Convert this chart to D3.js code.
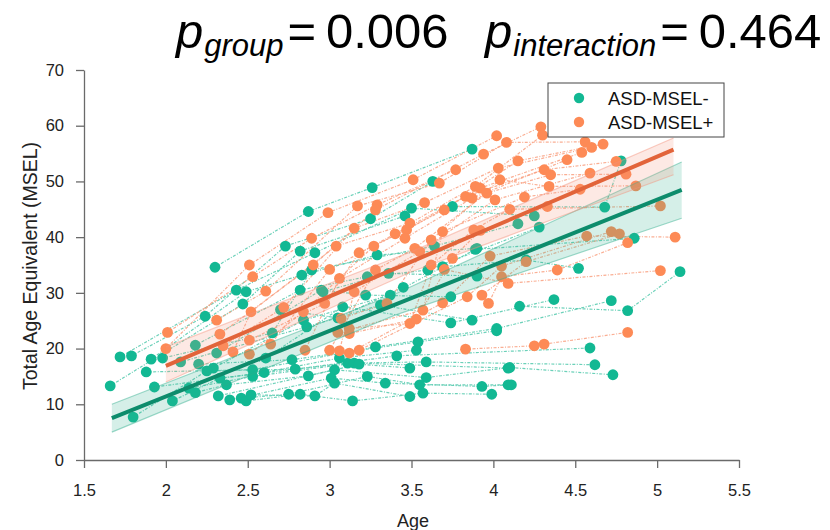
<!DOCTYPE html>
<html><head><meta charset="utf-8">
<script src="https://cdn.jsdelivr.net/npm/d3@7"></script>
<style>body{margin:0;background:#fff;} svg{display:block;font-family:"Liberation Sans",Arial,sans-serif;}</style>
</head><body>
<svg id="c" width="830" height="530"></svg>
<script>
// ---- data (age in years, MSEL total age equivalent) ----
const xTicks = [1.5, 2, 2.5, 3, 3.5, 4, 4.5, 5, 5.5];
const yTicks = [0, 10, 20, 30, 40, 50, 60, 70];
const groupNames = ["ASD-MSEL-", "ASD-MSEL+"];
const pGroup = "0.006";
const pInteraction = "0.464";

// ASD-MSEL- subjects (each: list of [age, score])
const greenSubjects = [
  [[2.30,34.6],[2.87,44.6],[3.26,48.9],[3.87,55.8]],
  [[1.79,18.7],[2.24,25.8],[2.73,38.4],[3.25,43.3],[3.63,50.0]],
  [[1.72,18.5],[2.43,30.5],[2.91,37.2],[3.50,45.2],[4.25,43.8]],
  [[1.66,13.3],[2.47,28.0],[2.82,37.5],[3.46,43.8]],
  [[3.75,45.5],[4.68,45.4],[4.78,53.7]],
  [[1.91,18.1],[2.49,30.2],[2.83,33.2],[3.29,36.8],[3.90,38.0]],
  [[1.98,18.3],[2.65,22.8],[2.89,34.1],[3.64,38.4],[4.15,42.4]],
  [[2.18,20.6],[2.82,30.5],[3.23,32.9],[3.60,34.1],[4.28,41.8]],
  [[2.29,16.5],[2.84,25.1],[3.37,29.6],[3.89,37.8],[4.86,39.8]],
  [[2.31,19.2],[2.95,30.5],[3.22,29.6],[3.74,29.3]],
  [[3.69,34.7],[4.20,35.9],[4.52,34.4]],
  [[2.09,17.6],[2.86,23.9],[3.31,27.8],[3.87,25.1]],
  [[2.61,18.3],[3.08,27.5],[3.74,24.6],[4.37,28.8]],
  [[4.16,27.6],[4.82,26.8],[5.14,33.8]],
  [[1.88,15.8],[2.53,16.2],[3.28,20.3],[4.02,23.6],[4.72,28.6]],
  [[2.20,17.2],[2.77,18.0],[3.54,21.2],[4.02,23.2]],
  [[1.93,13.1],[2.60,15.7],[3.06,18.3],[3.53,19.7]],
  [[1.80,7.7],[2.25,16.0],[2.79,16.3],[3.41,18.7],[4.59,20.1]],
  [[2.04,10.6],[2.33,14.7],[3.11,17.4],[3.59,17.6],[4.62,17.1]],
  [[2.14,12.9],[2.53,15.0],[3.15,17.4],[4.09,16.5]],
  [[2.18,12.1],[2.37,13.5],[2.87,15.1],[3.18,17.2],[3.49,16.5]],
  [[2.32,11.5],[3.03,16.2],[3.59,14.8],[4.10,16.6],[4.73,15.3]],
  [[2.39,10.8],[3.01,14.7],[3.34,13.8],[3.93,13.2],[4.09,13.5]],
  [[2.46,11.1],[2.75,11.8],[3.23,15.0],[3.55,13.5],[4.11,13.5]],
  [[2.49,10.6],[2.82,11.8],[3.14,10.6],[3.57,12.0],[3.99,11.8]],
  [[2.52,11.7],[2.91,11.5],[3.03,13.8],[3.49,11.4]],
  [[2.96,30.2],[3.36,33.5],[3.90,33.0]],
  [[2.70,27.0],[3.05,25.5],[3.45,31.0]]
];
// ASD-MSEL+ subjects
const orangeSubjects = [
  [[2.01,22.9],[2.53,32.9],[2.89,39.8],[3.29,45.8],[3.77,52.1]],
  [[2.00,20.0],[2.51,35.0],[2.99,44.4],[3.51,50.3],[4.02,58.2]],
  [[2.31,25.1],[2.61,30.3],[3.17,45.6],[3.67,49.7],[4.08,57.0],[4.56,57.1]],
  [[2.33,22.6],[2.90,35.0],[3.28,44.9],[3.94,54.9],[4.29,59.8]],
  [[2.35,20.5],[2.72,27.4],[3.15,41.6],[3.58,46.2],[4.03,52.4],[4.60,56.1]],
  [[2.41,19.4],[2.52,26.6],[3.04,38.4],[3.49,42.5],[3.89,49.1],[4.30,58.3]],
  [[2.51,21.5],[2.97,28.1],[3.18,37.2],[3.47,41.3],[3.92,48.8],[4.54,55.2]],
  [[2.51,19.0],[2.84,26.6],[3.27,38.4],[3.70,44.9],[4.15,53.7],[4.67,56.7]],
  [[2.64,20.8],[3.00,34.2],[3.40,40.6],[3.83,47.3],[4.31,52.1],[4.75,53.6]],
  [[2.85,19.7],[3.06,32.6],[3.46,39.8],[3.87,47.0],[4.45,53.9]],
  [[3.00,19.7],[3.28,34.1],[3.52,38.0],[3.96,47.9],[4.35,51.2],[4.81,51.3]],
  [[3.06,19.6],[3.15,30.2],[3.55,37.4],[4.01,46.7],[4.59,51.5]],
  [[3.07,25.4],[3.35,28.1],[3.62,39.5],[4.04,50.3],[4.34,49.1],[4.87,49.2]],
  [[3.05,22.9],[3.57,26.9],[3.69,41.0],[4.19,47.2],[4.53,48.6]],
  [[3.12,23.6],[3.49,24.5],[3.62,35.0],[3.88,41.3],[4.10,45.0],[5.02,45.6]],
  [[3.12,22.7],[3.53,25.3],[3.75,36.2],[3.92,41.2],[4.33,45.5]],
  [[3.12,19.2],[3.69,28.2],[3.98,36.6],[4.57,40.2],[5.11,40.0]],
  [[3.18,19.7],[3.84,29.3],[4.05,34.8],[4.72,41.0]],
  [[3.93,29.6],[4.20,35.6],[4.77,40.6]],
  [[3.97,28.1],[4.05,32.9],[4.39,34.1],[4.82,39.0]],
  [[3.70,34.2],[4.09,31.7],[5.02,34.0]],
  [[3.83,19.9],[4.25,20.5],[4.31,20.8],[4.82,22.9]]
];
// fitted group trajectories: age, fit, lower, upper
const greenFitAge = [1.67, 3.40, 5.15];
const greenFit    = [7.5, 27.9, 48.5];
const greenLo     = [5.0, 26.0, 43.4];
const greenHi     = [10.0, 29.8, 53.5];
const orangeFitAge = [2.00, 3.50, 5.10];
const orangeFit    = [16.9, 35.6, 55.7];
const orangeLo     = [14.0, 33.8, 51.2];
const orangeHi     = [20.3, 37.4, 57.8];

// ---- drawing ----
const svg = d3.select("#c");
const x = d3.scaleLinear().domain([1.5, 5.5]).range([84, 739]);
const y = d3.scaleLinear().domain([0, 70]).range([460, 70]);

const colPt = ["#12b893", "#fd8a56"];
const colDash = ["#52c9ad", "#f9a080"];
const colFit = ["#0d8c6c", "#e2643a"];
const colBand = ["#2fae8c", "#f5907a"];

// axes
const gx = svg.append("g").attr("transform", "translate(0,460)")
  .call(d3.axisBottom(x).tickValues(xTicks).tickFormat(d3.format("")).tickSize(8).tickSizeOuter(0).tickPadding(16));
const gy = svg.append("g").attr("transform", "translate(84,0)")
  .call(d3.axisLeft(y).tickValues(yTicks).tickSize(8).tickSizeOuter(0).tickPadding(12));
[gx, gy].forEach(g => {
  g.selectAll("path,line").attr("stroke", "#6a6a6a").attr("stroke-width", 1.3);
  g.selectAll("text").attr("fill", "#222").style("font-size", "16.5px").style("font-family", "Liberation Sans, Arial, sans-serif");
});

const line = d3.line().x(d => x(d[0])).y(d => y(d[1]));
const groups = [greenSubjects, orangeSubjects];

// spaghetti lines
groups.forEach((subs, gi) => {
  svg.append("g").selectAll("path").data(subs).join("path")
    .attr("d", line).attr("fill", "none")
    .attr("stroke", colDash[gi]).attr("stroke-width", 1.2)
    .attr("stroke-dasharray", "3,1.5,1,1.5").attr("opacity", 0.85);
});
// points
groups.forEach((subs, gi) => {
  svg.append("g").selectAll("circle").data(subs.flat()).join("circle")
    .attr("cx", d => x(d[0])).attr("cy", d => y(d[1])).attr("r", 5.4)
    .attr("fill", colPt[gi]);
});

// confidence bands + fits
const fits = [
  {age: greenFitAge, fit: greenFit, lo: greenLo, hi: greenHi},
  {age: orangeFitAge, fit: orangeFit, lo: orangeLo, hi: orangeHi}
];
fits.forEach((f, gi) => {
  const rows = f.age.map((a, i) => ({a, fit: f.fit[i], lo: f.lo[i], hi: f.hi[i]}));
  svg.append("path").datum(rows)
    .attr("d", d3.area().x(d => x(d.a)).y0(d => y(d.lo)).y1(d => y(d.hi)))
    .attr("fill", colBand[gi]).attr("fill-opacity", 0.2);
  ["lo", "hi"].forEach(k => {
    svg.append("path").datum(rows)
      .attr("d", d3.line().x(d => x(d.a)).y(d => y(d[k])))
      .attr("fill", "none").attr("stroke", colBand[gi]).attr("stroke-opacity", 0.45).attr("stroke-width", 1.2);
  });
});
fits.forEach((f, gi) => {
  const rows = f.age.map((a, i) => ({a, fit: f.fit[i]}));
  svg.append("path").datum(rows)
    .attr("d", d3.line().x(d => x(d.a)).y(d => y(d.fit)))
    .attr("fill", "none").attr("stroke", colFit[gi]).attr("stroke-width", 4);
});

// axis labels
svg.append("text").attr("x", 413).attr("y", 527).attr("text-anchor", "middle")
  .style("font-size", "18px").attr("fill", "#222").text("Age");
svg.append("text").attr("transform", "translate(37,266) rotate(-90)").attr("text-anchor", "middle")
  .style("font-size", "19.5px").attr("fill", "#222").text("Total Age Equivalent (MSEL)");

// legend
const lg = svg.append("g");
lg.append("rect").attr("x", 548).attr("y", 83).attr("width", 176).attr("height", 54)
  .attr("fill", "#fff").attr("stroke", "#444").attr("stroke-width", 1);
groupNames.forEach((n, i) => {
  lg.append("circle").attr("cx", 579).attr("cy", 98 + i * 24).attr("r", 5.2).attr("fill", colPt[i]);
  lg.append("text").attr("x", 608).attr("y", 104.5 + i * 24).style("font-size", "18.5px").attr("fill", "#111").text(n);
});

// title
function pLabel(xpos, sub, val) {
  const t = svg.append("text").attr("x", xpos).attr("y", 48).attr("fill", "#000").style("font-size", "49px");
  t.append("tspan").style("font-style", "italic").text("p");
  t.append("tspan").style("font-style", "italic").style("font-size", "31px").attr("dy", 8).attr("dx", 1).text(sub);
  t.append("tspan").attr("dy", -8).attr("dx", 4).text("=\u2009" + val);
}
pLabel(176, "group", pGroup);
pLabel(485, "interaction", pInteraction);
</script>
</body></html>
